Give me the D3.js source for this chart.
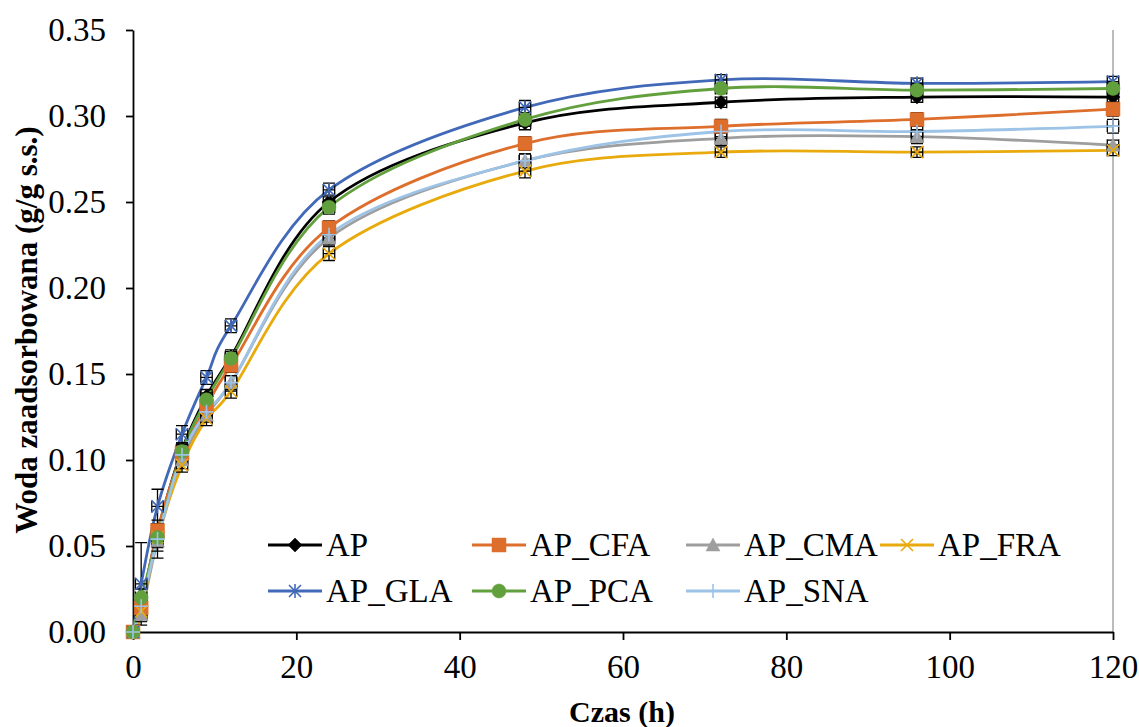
<!DOCTYPE html>
<html>
<head>
<meta charset="utf-8">
<script src="https://cdn.jsdelivr.net/npm/d3@7/dist/d3.min.js"></script>
<style>
  body { margin: 0; background: #fff; }
  text { font-family: "Liberation Serif", "Times New Roman", serif; fill: #000; }
</style>
</head>
<body>
<script>
// Data
var time = [0, 1, 3, 6, 9, 12, 24, 48, 72, 96, 120];

var AP     = [0, 0.015, 0.058, 0.106, 0.137, 0.160, 0.250, 0.296, 0.308, 0.311, 0.311];
var AP_CFA = [0, 0.014, 0.059, 0.104, 0.131, 0.155, 0.235, 0.284, 0.294, 0.298, 0.304];
var AP_CMA = [0, 0.010, 0.053, 0.100, 0.126, 0.145, 0.229, 0.274, 0.287, 0.288, 0.283];
var AP_FRA = [0, 0.012, 0.055, 0.097, 0.124, 0.140, 0.220, 0.268, 0.279, 0.279, 0.280];
var AP_GLA = [0, 0.028, 0.073, 0.115, 0.148, 0.178, 0.257, 0.305, 0.321, 0.319, 0.320];
var AP_PCA = [0, 0.020, 0.055, 0.105, 0.135, 0.159, 0.247, 0.298, 0.316, 0.315, 0.316];
var AP_SNA = [0, 0.015, 0.054, 0.103, 0.128, 0.145, 0.231, 0.274, 0.291, 0.291, 0.294];

// error bars (y, g/g) and fixed x error (h)
var errAP  = [0, 0.004, 0.005, 0.004, 0.004, 0.004, 0.004, 0.004, 0.003, 0.003, 0.003];
var errCFA = [0, 0.005, 0.006, 0.005, 0.004, 0.004, 0.004, 0.004, 0.004, 0.004, 0.004];
var errCMA = [0, 0.004, 0.010, 0.005, 0.004, 0.004, 0.004, 0.004, 0.004, 0.004, 0.003];
var errFRA = [0, 0.004, 0.008, 0.004, 0.004, 0.004, 0.004, 0.004, 0.003, 0.003, 0.003];
var errGLA = [0, 0.024, 0.010, 0.005, 0.004, 0.004, 0.004, 0.004, 0.003, 0.003, 0.003];
var errPCA = [0, 0.005, 0.005, 0.004, 0.004, 0.004, 0.004, 0.004, 0.003, 0.003, 0.003];
var errSNA = [0, 0.004, 0.005, 0.004, 0.004, 0.004, 0.004, 0.004, 0.003, 0.004, 0.004];
var xErr = 0.7;

var names   = ["AP", "AP_CFA", "AP_CMA", "AP_FRA", "AP_GLA", "AP_PCA", "AP_SNA"];
var values  = [AP, AP_CFA, AP_CMA, AP_FRA, AP_GLA, AP_PCA, AP_SNA];
var errors  = [errAP, errCFA, errCMA, errFRA, errGLA, errPCA, errSNA];
var colors  = ["#000000", "#DD6E2C", "#9E9E9E", "#E8AA0C", "#4169B8", "#62A03E", "#9DC3E6"];
var markers = ["diamond", "square", "triangle", "x", "asterisk", "circle", "plus"];

var xTicks = [0, 20, 40, 60, 80, 100, 120];
var yTicks = [0, 0.05, 0.10, 0.15, 0.20, 0.25, 0.30, 0.35];

// Layout
var W = 1139, H = 727;
var mLeft = 133, mTop = 30, mRight = 1113, mBottom = 632;

var svg = d3.select("body").append("svg")
  .attr("width", W).attr("height", H);

var x = d3.scaleLinear().domain([0, 120]).range([mLeft, mRight]);
var y = d3.scaleLinear().domain([0, 0.35]).range([mBottom, mTop]);

// right border
svg.append("line")
  .attr("x1", mRight).attr("x2", mRight)
  .attr("y1", mTop).attr("y2", mBottom)
  .attr("stroke", "#a6a6a6").attr("stroke-width", 1.5);

// axes
var xAxis = svg.append("g")
  .attr("transform", "translate(0," + mBottom + ")")
  .call(d3.axisBottom(x).tickValues(xTicks).tickSize(8).tickSizeOuter(0).tickFormat(d3.format("d")));
xAxis.selectAll("text").attr("dy", null).attr("y", 46)
  .style("font-size", "33px").attr("font-family", "Liberation Serif");

var yAxis = svg.append("g")
  .attr("transform", "translate(" + mLeft + ",0)")
  .call(d3.axisLeft(y).tickValues(yTicks).tickSize(7).tickSizeOuter(0).tickFormat(d3.format(".2f")));
yAxis.selectAll("text").attr("x", -27).attr("dy", "0.33em")
  .style("font-size", "33px").attr("font-family", "Liberation Serif");

svg.selectAll(".domain, .tick line").attr("stroke", "#000").attr("stroke-width", 1.8);

// axis titles
svg.append("text")
  .attr("x", 622).attr("y", 722)
  .attr("text-anchor", "middle")
  .style("font-size", "30px").style("font-weight", "bold")
  .text("Czas (h)");

svg.append("text")
  .attr("transform", "translate(37,330) rotate(-90)")
  .attr("text-anchor", "middle")
  .style("font-size", "31px").style("font-weight", "bold")
  .text("Woda zaadsorbowana (g/g s.s.)");

// marker shapes
function markerPath(type) {
  switch (type) {
    case "diamond": return "M0,-7L7,0L0,7L-7,0Z";
    case "square": return "M-7,-7H7V7H-7Z";
    case "triangle": return "M0,-7L7,6H-7Z";
    case "circle": return "M7,0A7,7 0 1,1 -7,0A7,7 0 1,1 7,0Z";
    case "x": return "M-6,-6L6,6M6,-6L-6,6";
    case "asterisk": return "M-6,-6L6,6M6,-6L-6,6M0,-7V7";
    case "plus": return "M-7,0H7M0,-7V7";
  }
}
function isFilled(type) {
  return ["diamond", "square", "triangle", "circle"].indexOf(type) >= 0;
}

var line = d3.line()
  .x(function (d) { return x(d[0]); })
  .y(function (d) { return y(d[1]); })
  .curve(d3.curveCardinal.tension(0));

var series = names.map(function (n, i) {
  return {
    name: n, color: colors[i], marker: markers[i],
    pts: time.map(function (t, j) { return [t, values[i][j], errors[i][j]]; })
  };
});

// lines
svg.append("g").selectAll("path")
  .data(series).enter().append("path")
  .attr("d", function (s) { return line(s.pts); })
  .attr("fill", "none")
  .attr("stroke", function (s) { return s.color; })
  .attr("stroke-width", 2.8);

// error bars
var eb = svg.append("g").attr("stroke", "#000").attr("stroke-width", 1.3).attr("fill", "none");
series.forEach(function (s) {
  s.pts.forEach(function (p) {
    var cx = x(p[0]), cy = y(p[1]);
    var y0 = y(p[1] - p[2]), y1 = y(p[1] + p[2]);
    var x0 = x(Math.max(0, p[0] - xErr)), x1 = x(p[0] + xErr);
    var d = "M" + cx + "," + y0 + "V" + y1 +
      "M" + (cx - 6) + "," + y0 + "H" + (cx + 6) +
      "M" + (cx - 6) + "," + y1 + "H" + (cx + 6) +
      "M" + x0 + "," + cy + "H" + x1 +
      "M" + x0 + "," + (cy - 6) + "V" + (cy + 6) +
      "M" + x1 + "," + (cy - 6) + "V" + (cy + 6);
    eb.append("path").attr("d", d);
  });
});

// markers
series.forEach(function (s) {
  svg.append("g").selectAll("path")
    .data(s.pts).enter().append("path")
    .attr("transform", function (p) { return "translate(" + x(p[0]) + "," + y(p[1]) + ")"; })
    .attr("d", markerPath(s.marker))
    .attr("fill", isFilled(s.marker) ? s.color : "none")
    .attr("stroke", s.color)
    .attr("stroke-width", isFilled(s.marker) ? 0.5 : 1.6);
});

// legend: 4 columns, 2 rows
var legCols = [268, 472, 686, 880];
var legRows = [545, 591];
var legend = svg.append("g");
series.forEach(function (s, i) {
  var lx = legCols[i % 4], ly = legRows[Math.floor(i / 4)];
  var g = legend.append("g").attr("transform", "translate(" + lx + "," + ly + ")");
  g.append("line").attr("x1", 0).attr("x2", 54).attr("y1", 0).attr("y2", 0)
    .attr("stroke", s.color).attr("stroke-width", 2.8);
  g.append("path").attr("transform", "translate(27,0)")
    .attr("d", markerPath(s.marker))
    .attr("fill", isFilled(s.marker) ? s.color : "none")
    .attr("stroke", s.color)
    .attr("stroke-width", isFilled(s.marker) ? 0.5 : 1.6);
  g.append("text").attr("x", 58).attr("y", 11)
    .style("font-size", "33px")
    .text(s.name);
});
</script>
</body>
</html>
